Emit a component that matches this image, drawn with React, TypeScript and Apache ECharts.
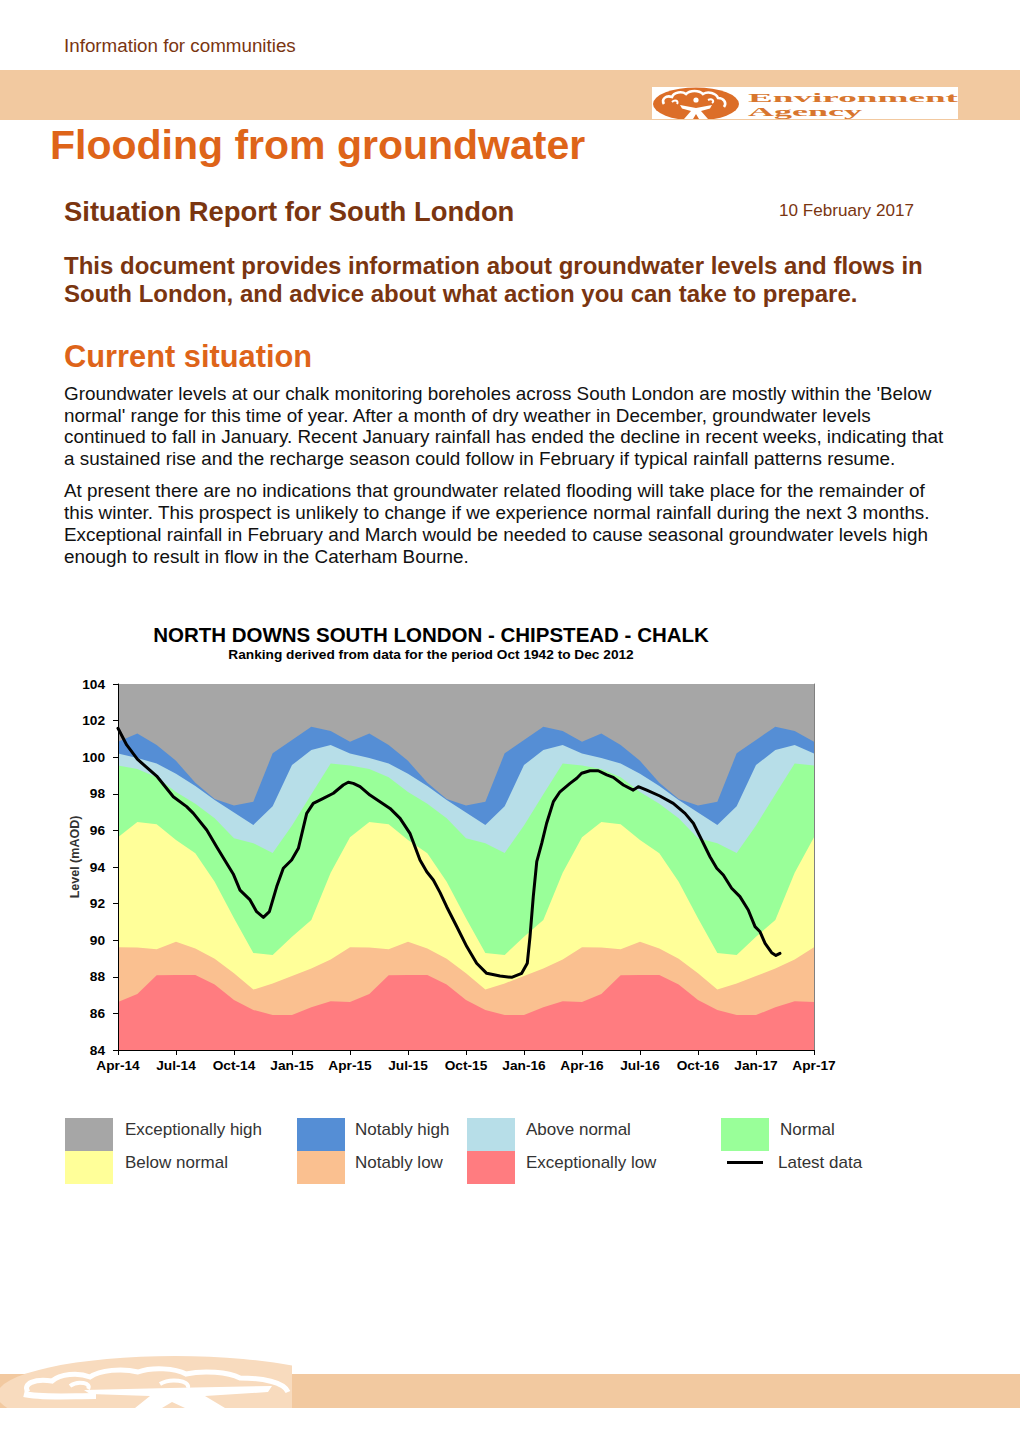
import React, { useEffect, useRef } from "react";
import * as echarts from "echarts";

const FONT = "'Liberation Sans', Arial, sans-serif";
const BROWN = "#7A3510";
const ORANGE = "#DE6419";
const PEACH = "#F2C9A0";

// ---------- chart data ----------
const xTickLabels = ["Apr-14", "Jul-14", "Oct-14", "Jan-15", "Apr-15", "Jul-15", "Oct-15", "Jan-16", "Apr-16", "Jul-16", "Oct-16", "Jan-17", "Apr-17"];
const yMin = 84;
const yMax = 104;
const yStep = 2;
const monthSpan = 36; // Apr-14 .. Apr-17

// Monthly ranking boundaries (top of each band), calendar months from April to March
const bandMonths = ["Apr", "May", "Jun", "Jul", "Aug", "Sep", "Oct", "Nov", "Dec", "Jan", "Feb", "Mar"];
const notablyHighTop = [100.85, 101.3, 100.67, 99.8, 98.6, 97.72, 97.36, 97.57, 100.21, 100.94, 101.67, 101.43];
const aboveNormalTop = [100.2, 99.96, 99.65, 99.1, 98.43, 97.66, 96.98, 96.3, 97.32, 99.57, 100.39, 100.67];
const normalTop = [99.55, 99.36, 98.9, 98.1, 97.45, 96.66, 95.57, 95.3, 94.77, 96.27, 97.98, 99.65];
const belowNormalTop = [95.62, 96.46, 96.34, 95.48, 94.75, 93.2, 91.2, 89.3, 89.19, 90.19, 91.1, 93.68];
const notablyLowTop = [89.62, 89.6, 89.5, 89.92, 89.55, 88.98, 88.2, 87.3, 87.64, 88.04, 88.46, 88.94];
const exceptionallyLowTop = [86.62, 87.06, 88.08, 88.1, 88.1, 87.58, 86.73, 86.19, 85.91, 85.91, 86.33, 86.67];

// Latest data: months since 1 Apr 2014, groundwater level (mAOD)
const latestMonths = [0, 0.45, 1.0, 2.0, 2.86, 3.55, 3.9, 4.59, 5.1, 5.62, 5.96, 6.31, 6.83, 7.17, 7.52, 7.83, 8.21, 8.55, 8.98, 9.33, 9.76, 10.1, 10.62, 11.14, 11.65, 11.91, 12.17, 12.52, 13.03, 13.55, 14.07, 14.59, 15.1, 15.62, 15.97, 16.31, 16.66, 17.0, 17.52, 18.04, 18.55, 19.07, 19.76, 20.36, 20.88, 21.17, 21.31, 21.48, 21.66, 21.92, 22.17, 22.52, 22.86, 23.38, 23.73, 23.98, 24.41, 24.84, 25.28, 25.62, 26.14, 26.65, 26.91, 27.35, 28.03, 28.72, 29.33, 29.76, 30.19, 30.62, 30.97, 31.31, 31.74, 32.17, 32.6, 32.95, 33.21, 33.47, 33.81, 34.03, 34.24];
const latestLevels = [101.58, 100.67, 99.89, 98.97, 97.84, 97.3, 96.93, 96.02, 95.11, 94.2, 93.62, 92.74, 92.2, 91.56, 91.25, 91.56, 92.93, 93.93, 94.38, 95.02, 96.93, 97.48, 97.75, 98.03, 98.48, 98.63, 98.57, 98.39, 97.93, 97.57, 97.2, 96.66, 95.84, 94.38, 93.74, 93.29, 92.6, 91.83, 90.75, 89.65, 88.74, 88.19, 88.04, 87.97, 88.19, 88.74, 90.19, 92.38, 94.29, 95.3, 96.39, 97.57, 98.11, 98.57, 98.85, 99.12, 99.26, 99.26, 99.03, 98.9, 98.48, 98.2, 98.39, 98.2, 97.88, 97.48, 96.93, 96.39, 95.48, 94.56, 93.93, 93.56, 92.84, 92.38, 91.65, 90.74, 90.46, 89.83, 89.32, 89.17, 89.28];

const legendRow1 = ["Exceptionally high", "Notably high", "Above normal", "Normal"];
const legendRow2 = ["Below normal", "Notably low", "Exceptionally low", "Latest data"];

const bodyPara1 = [
  "Groundwater levels at our chalk monitoring boreholes across South London are mostly within the 'Below",
  "normal' range for this time of year. After a month of dry weather in December, groundwater levels",
  "continued to fall in January. Recent January rainfall has ended the decline in recent weeks, indicating that",
  "a sustained rise and the recharge season could follow in February if typical rainfall patterns resume.",
];
const bodyPara2 = [
  "At present there are no indications that groundwater related flooding will take place for the remainder of",
  "this winter. This prospect is unlikely to change if we experience normal rainfall during the next 3 months.",
  "Exceptional rainfall in February and March would be needed to cause seasonal groundwater levels high",
  "enough to result in flow in the Caterham Bourne.",
];

type Band = { name: string; color: string; top: number[] | null };
const bands: Band[] = [
  { name: "Exceptionally high", color: "#A6A6A6", top: null },
  { name: "Notably high", color: "#558ED5", top: notablyHighTop },
  { name: "Above normal", color: "#B7DEE8", top: aboveNormalTop },
  { name: "Normal", color: "#99FF99", top: normalTop },
  { name: "Below normal", color: "#FFFF99", top: belowNormalTop },
  { name: "Notably low", color: "#FAC090", top: notablyLowTop },
  { name: "Exceptionally low", color: "#FF7C80", top: exceptionallyLowTop },
];

function buildBand(top: number[] | null) {
  const out: number[][] = [];
  for (let i = 0; i <= monthSpan; i++) {
    out.push([i, top ? top[i % bandMonths.length] : yMax]);
  }
  return out;
}

const CHART_TOP = 600;

function Chart() {
  const ref = useRef<HTMLDivElement>(null);
  useEffect(() => {
    if (!ref.current) return;
    const chart = echarts.init(ref.current, undefined, { renderer: "svg" });
    const axisLabelStyle = { fontFamily: FONT, fontWeight: "bold" as const, fontSize: 13.7, color: "#000" };
    const bandSeries = bands.map((b) => ({
      type: "line",
      name: b.name,
      data: buildBand(b.top),
      symbol: "none",
      silent: true,
      color: b.color,
      itemStyle: { color: b.color },
      lineStyle: { width: 0, color: b.color },
      areaStyle: { color: b.color, opacity: 1, origin: "start" },
      z: 2,
    }));
    const lineSeries = {
      type: "line",
      name: "Latest data",
      data: latestMonths.map((m, i) => [m, latestLevels[i]]),
      symbol: "none",
      silent: true,
      color: "#000",
      itemStyle: { color: "#000" },
      lineStyle: { width: 3, color: "#000", join: "round", cap: "round" },
      z: 4,
    };
    const richText = (padLeft: number, padBottom: number) => ({
      fontFamily: FONT,
      fontSize: 17,
      color: "#333",
      rich: { t: { fontFamily: FONT, fontSize: 17, color: "#333", padding: [0, 0, padBottom, padLeft] } },
    });
    const legendBase = {
      orient: "vertical",
      itemGap: 0,
      itemWidth: 48,
      itemHeight: 33,
      icon: "rect",
      selectedMode: false,
      padding: 0,
      top: 518,
      formatter: "{t|{name}}",
    };
    chart.setOption({
      animation: false,
      grid: { left: 118, right: 206, top: 84, height: 366, show: false },
      graphic: [
        {
          type: "text",
          x: 431,
          y: 34,
          style: { text: "NORTH DOWNS SOUTH LONDON - CHIPSTEAD - CHALK", font: `bold 20.5px ${FONT}`, fill: "#000", align: "center", verticalAlign: "middle" },
        },
        {
          type: "text",
          x: 431,
          y: 54,
          style: { text: "Ranking derived from data for the period Oct 1942 to Dec 2012", font: `bold 13.7px ${FONT}`, fill: "#000", align: "center", verticalAlign: "middle" },
        },
        {
          type: "text",
          x: 75,
          y: 257,
          rotation: Math.PI / 2,
          style: { text: "Level (mAOD)", font: `bold 12.5px ${FONT}`, fill: "#333", align: "center", verticalAlign: "middle" },
        },
      ],
      xAxis: {
        type: "value",
        min: 0,
        max: monthSpan,
        interval: 3,
        z: 10,
        axisLine: { show: true, onZero: false, lineStyle: { color: "#000", width: 1 } },
        axisTick: { show: true, length: 5, lineStyle: { color: "#000" } },
        axisLabel: { ...axisLabelStyle, margin: 8, formatter: (v: number) => xTickLabels[Math.round(v / 3)] ?? "" },
        splitLine: { show: false },
      },
      yAxis: [
        {
          type: "value",
          min: yMin,
          max: yMax,
          interval: yStep,
          z: 10,
          axisLine: { show: true, lineStyle: { color: "#000", width: 1 } },
          axisTick: { show: true, length: 5, lineStyle: { color: "#000" } },
          axisLabel: { ...axisLabelStyle, margin: 13 },
          splitLine: { show: false },
        },
        {
          type: "value",
          min: yMin,
          max: yMax,
          interval: yStep,
          position: "right",
          z: 10,
          axisLine: { show: true, lineStyle: { color: "#808080", width: 1 } },
          axisTick: { show: false },
          axisLabel: { show: false },
          splitLine: { show: false },
        },
      ],
      legend: [
        { ...legendBase, left: 65, textStyle: richText(7, 11), data: [legendRow1[0], legendRow2[0]] },
        { ...legendBase, left: 297, textStyle: richText(5, 11), data: [legendRow1[1], legendRow2[1]] },
        { ...legendBase, left: 467, textStyle: richText(6, 11), data: [legendRow1[2], legendRow2[2]] },
        { ...legendBase, left: 721, textStyle: richText(6, 11), data: [legendRow1[3]] },
        {
          orient: "vertical",
          left: 727,
          top: 554,
          padding: 0,
          icon: "rect",
          itemWidth: 36,
          itemHeight: 3,
          selectedMode: false,
          formatter: "{t|{name}}",
          textStyle: richText(10, 0),
          data: [legendRow2[3]],
        },
      ],
      series: [...bandSeries, lineSeries],
    });
    return () => chart.dispose();
  }, []);
  return <div ref={ref} style={{ position: "absolute", left: 0, top: CHART_TOP, width: 1020, height: 600 }} />;
}

function Txt(props: { x: number; base: number; size: number; color: string; bold?: boolean; children: React.ReactNode }) {
  const { x, base, size, color, bold, children } = props;
  return (
    <div
      style={{
        position: "absolute",
        left: x,
        top: base - 0.9465 * size,
        fontSize: size,
        lineHeight: `${size * 1.2}px`,
        color,
        fontWeight: bold ? "bold" : "normal",
        whiteSpace: "nowrap",
        fontFamily: FONT,
      }}
    >
      {children}
    </div>
  );
}

function TopLogo() {
  const serif = "'Liberation Serif', 'DejaVu Serif', serif";
  return (
    <svg style={{ position: "absolute", left: 652, top: 87 }} width={306} height={32}>
      <rect x={0} y={0} width={306} height={32} fill="#fff" />
      <ellipse cx={44} cy={17} rx={43} ry={16.5} fill="#DC6E28" />
      <path d="M12,17 C9,12 14,8 20,10 C22,5 30,4 34,7 C38,3 47,3 51,7 C56,4 64,6 66,11 C72,11 75,16 72,20" stroke="#fff" strokeWidth={2.6} fill="none" />
      <path d="M20,15 C23,12 27,14 25,17" stroke="#fff" strokeWidth={2} fill="none" />
      <path d="M56,13 C60,11 63,14 60,16" stroke="#fff" strokeWidth={2} fill="none" />
      <circle cx={44} cy={13} r={2.6} fill="#fff" />
      <path d="M28,18 L44,21 L60,18 L58,21.5 L49,24 L56,32 L47,32 L44,27 L41,32 L32,32 L39,24 L30,21.5 Z" fill="#fff" />
      <text x={96} y={14.5} textLength={210} lengthAdjust="spacingAndGlyphs" fontFamily={serif} fontWeight="bold" fontSize={12.5} fill="#D8762E">
        Environment
      </text>
      <text x={96} y={28.5} textLength={114} lengthAdjust="spacingAndGlyphs" fontFamily={serif} fontWeight="bold" fontSize={12.5} fill="#D8762E">
        Agency
      </text>
    </svg>
  );
}

function BottomBand() {
  return (
    <svg style={{ position: "absolute", left: 0, top: 1350 }} width={1020} height={60}>
      <defs>
        <clipPath id="wm">
          <rect x={0} y={0} width={292} height={58} />
        </clipPath>
      </defs>
      <rect x={0} y={24} width={1020} height={34} fill={PEACH} />
      <g clipPath="url(#wm)">
        <ellipse cx={175} cy={45} rx={178} ry={39} fill="#F8DBBE" />
        <path d="M28,42 C22,34 35,28 52,31 C60,24 78,22 90,27 C100,20 122,18 138,22 C152,17 175,18 186,24 C204,20 228,22 240,28 C262,28 284,32 288,42" stroke="#fff" strokeWidth={5} fill="none" />
        <path d="M24,44 C40,48 70,46 96,46" stroke="#fff" strokeWidth={6} fill="none" />
        <path d="M160,34 C170,28 190,30 188,38" stroke="#fff" strokeWidth={4} fill="none" />
        <path d="M70,36 C78,30 92,33 88,39" stroke="#fff" strokeWidth={4} fill="none" />
        <path d="M84,40 L170,38 L272,36 L268,42 L205,46 L225,58 L185,58 L172,52 L162,58 L135,58 L150,46 L90,44 Z" fill="#fff" />
      </g>
    </svg>
  );
}

export default function App() {
  return (
    <div style={{ position: "absolute", left: 0, top: 0, width: 1020, height: 1443, background: "#fff", fontFamily: FONT, overflow: "hidden" }}>
      <Txt x={64} base={53} size={18.8} color={BROWN}>Information for communities</Txt>
      <div style={{ position: "absolute", left: 0, top: 70, width: 1020, height: 49.5, background: PEACH }} />
      <TopLogo />
      <Txt x={50} base={159.5} size={41} color={ORANGE} bold>Flooding from groundwater</Txt>
      <Txt x={64} base={221.5} size={27.4} color={BROWN} bold>Situation Report for South London</Txt>
      <Txt x={779} base={217} size={17.1} color={BROWN}>10 February 2017</Txt>
      <Txt x={64} base={275} size={24} color={BROWN} bold>This document provides information about groundwater levels and flows in</Txt>
      <Txt x={64} base={302.7} size={24} color={BROWN} bold>South London, and advice about what action you can take to prepare.</Txt>
      <Txt x={64} base={368} size={30.8} color={ORANGE} bold>Current situation</Txt>
      {bodyPara1.map((l, i) => (
        <Txt key={"a" + i} x={64} base={400.7 + i * 21.8} size={18.86} color="#111">{l}</Txt>
      ))}
      {bodyPara2.map((l, i) => (
        <Txt key={"b" + i} x={64} base={498 + i * 21.8} size={18.86} color="#111">{l}</Txt>
      ))}
      <Chart />
      <BottomBand />
    </div>
  );
}
